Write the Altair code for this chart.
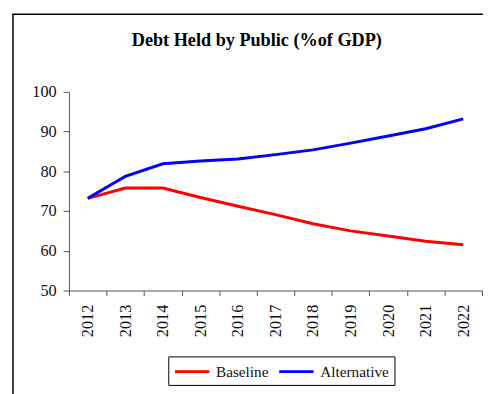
import altair as alt
import pandas as pd

years = ["2012", "2013", "2014", "2015", "2016", "2017", "2018", "2019", "2020", "2021", "2022"]
baseline = [73.2, 75.8, 75.8, 73.4, 71.2, 69.1, 66.8, 65.0, 63.7, 62.4, 61.5]
alternative = [73.2, 78.7, 81.9, 82.6, 83.1, 84.2, 85.4, 87.1, 88.9, 90.7, 93.2]
series_names = ["Baseline", "Alternative"]
series_colors = ["#FF0000", "#0000FF"]
y_ticks = [50, 60, 70, 80, 90, 100]
title_text = "Debt Held by Public (%of GDP)"

FONT = "Liberation Serif"

rows = []
for name, vals in zip(series_names, [baseline, alternative]):
    for yr, v in zip(years, vals):
        rows.append({"Year": yr, "Series": name, "Value": v})
df = pd.DataFrame(rows)

frame = alt.Chart(pd.DataFrame([{"k": 1}])).mark_rect(
    fillOpacity=0, stroke="black", strokeWidth=1.5
).encode(
    x=alt.value(-57), x2=alt.value(1000), y=alt.value(-79), y2=alt.value(1000)
)

lines = alt.Chart(df).mark_line(strokeWidth=3).encode(
    x=alt.X(
        "Year:O",
        sort=years,
        scale=alt.Scale(type="band", paddingInner=0, paddingOuter=0),
        axis=alt.Axis(
            title=None,
            labelAngle=270,
            tickBand="extent",
            tickSize=5,
            labelPadding=9,
            domainColor="#555555",
            tickColor="#555555",
            labelFont=FONT,
            labelFontSize=16.5,
            labelColor="#111111",
        ),
    ),
    y=alt.Y(
        "Value:Q",
        scale=alt.Scale(domain=[50, 100], nice=False, zero=False),
        axis=alt.Axis(
            title=None,
            values=y_ticks,
            grid=False,
            tickSize=6,
            labelPadding=7,
            domainColor="#555555",
            tickColor="#555555",
            labelFont=FONT,
            labelFontSize=16.5,
            labelColor="#111111",
        ),
    ),
    color=alt.Color(
        "Series:N",
        sort=series_names,
        scale=alt.Scale(domain=series_names, range=series_colors),
        legend=alt.Legend(
            title=None,
            orient="none",
            legendX=101,
            legendY=269,
            direction="horizontal",
            symbolType="M-1,0H3",
            symbolSize=306,
            symbolStrokeWidth=3,
            labelOffset=22.5,
            padding=5,
            strokeColor="black",
            columnPadding=4,
            labelFont=FONT,
            labelFontSize=15.5,
            labelColor="#111111",
        ),
    ),
    order=alt.Order("Series:N", sort="descending"),
)

title = alt.Chart(pd.DataFrame([{"t": title_text}])).mark_text(
    font=FONT, fontSize=18.5, fontWeight="bold", align="center", baseline="alphabetic", color="black"
).encode(
    x=alt.value(191), y=alt.value(-47), text="t:N"
)

chart = alt.layer(frame, lines, title).properties(
    width=420,
    height=202,
    padding={"left": 62, "top": 82, "right": 1, "bottom": 102},
    autosize=alt.AutoSizeParams(type="none"),
).configure_view(strokeOpacity=0)

chart.save("out.html", embed_options={"renderer": "svg", "actions": False})
